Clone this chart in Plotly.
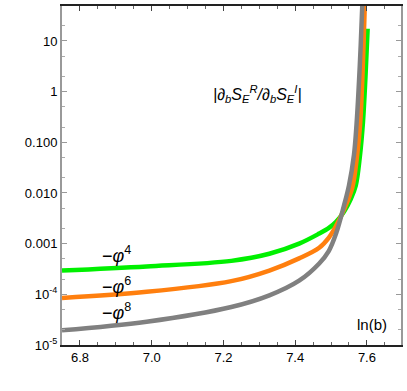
import plotly.graph_objects as go

# ln(b) and |dS_R/dS_I|, one set per potential
x_phi4 = [6.75, 6.986, 7.222, 7.328, 7.411, 7.467, 7.494, 7.514, 7.536, 7.555,
          7.569, 7.580, 7.589, 7.596, 7.602]
y_phi4 = [2.95e-4, 3.55e-4, 4.57e-4, 6.31e-4, 1.00e-3, 1.58e-3, 2.04e-3, 2.69e-3,
          4.27e-3, 7.59e-3, 1.41e-2, 5.01e-2, 0.251, 2.0, 17.4]

x_phi6 = [6.75, 6.986, 7.222, 7.328, 7.411, 7.467, 7.494, 7.514, 7.536, 7.559,
          7.573, 7.581, 7.588, 7.594, 7.597]
y_phi6 = [8.51e-5, 1.12e-4, 1.82e-4, 2.95e-4, 5.13e-4, 8.32e-4, 1.32e-3, 2.24e-3,
          4.68e-3, 1.26e-2, 5.75e-2, 0.224, 2.51, 49.0, 200.0]

x_phi8 = [6.75, 6.986, 7.222, 7.328, 7.411, 7.467, 7.494, 7.514, 7.536, 7.550,
          7.564, 7.571, 7.580, 7.587, 7.590]
y_phi8 = [1.95e-5, 2.88e-5, 5.62e-5, 9.55e-5, 1.86e-4, 4.07e-4, 7.24e-4, 1.58e-3,
          5.62e-3, 1.41e-2, 5.75e-2, 0.224, 3.16, 49.0, 200.0]

y_tickvals = [1e-5, 1e-4, 1e-3, 1e-2, 1e-1, 1, 10]
y_ticktext = ["10<sup>-5</sup>", "10<sup>-4</sup>", "0.001", "0.010", "0.100", "1", "10"]
x_tickvals = [6.8, 7.0, 7.2, 7.4, 7.6]
x_ticktext = ["6.8", "7.0", "7.2", "7.4", "7.6"]

fig = go.Figure()
for xs, ys, cor in [
    (x_phi4, y_phi4, "#00f000"),
    (x_phi6, y_phi6, "#ff7f0e"),
    (x_phi8, y_phi8, "#808080"),
]:
    fig.add_trace(go.Scatter(x=xs, y=ys, mode="lines",
                             line=dict(color=cor, width=4.5, shape="spline", smoothing=1.0),
                             showlegend=False, hoverinfo="skip"))

fonte = dict(family="Liberation Sans, Arial, sans-serif", color="black")

fig.add_annotation(text="<i>|∂<sub>b</sub>S<sub>E</sub><sup>R</sup>/∂<sub>b</sub>S<sub>E</sub><sup>I</sup>|</i>",
                   xref="paper", yref="paper", x=0.576, y=0.74, showarrow=False,
                   xanchor="center", yanchor="middle", font=dict(size=16, **fonte))
for rot, ypos in [("4", 0.268), ("6", 0.176), ("8", 0.098)]:
    fig.add_annotation(text=f"−<i>φ</i><sup>{rot}</sup>", xref="paper", yref="paper",
                       x=0.16, y=ypos, showarrow=False, xanchor="center", yanchor="middle",
                       font=dict(size=18, **fonte))
fig.add_annotation(text="ln(b)", xref="paper", yref="paper", x=0.915, y=0.059,
                   showarrow=False, xanchor="center", yanchor="middle",
                   font=dict(size=15, **fonte))

fig.update_layout(
    width=407, height=391,
    margin=dict(l=62, r=5, t=4, b=46),
    plot_bgcolor="white", paper_bgcolor="white",
    font=dict(size=13, **fonte),
)
fig.update_xaxes(range=[6.75, 7.695], tickvals=x_tickvals, ticktext=x_ticktext,
                 showgrid=False, zeroline=False, showline=True, linecolor="#222",
                 linewidth=1.5, mirror="ticks", ticks="inside", ticklen=5, tickcolor="#444",
                 minor=dict(dtick=0.05, ticks="inside", ticklen=3, tickcolor="#666", showgrid=False))
fig.update_yaxes(type="log", range=[-5, 1.69], tickvals=y_tickvals, ticktext=y_ticktext,
                 showgrid=False, zeroline=False, showline=True, linecolor="#999",
                 linewidth=2, mirror="ticks", ticks="inside", ticklen=5, tickcolor="#999",
                 minor=dict(ticks="inside", ticklen=3, tickcolor="#aaa", showgrid=False))

# the page's default body margin would shift the figure by 8px
fig.write_html("out.html", config={"displayModeBar": False},
               post_script="document.body.style.margin='0';")
